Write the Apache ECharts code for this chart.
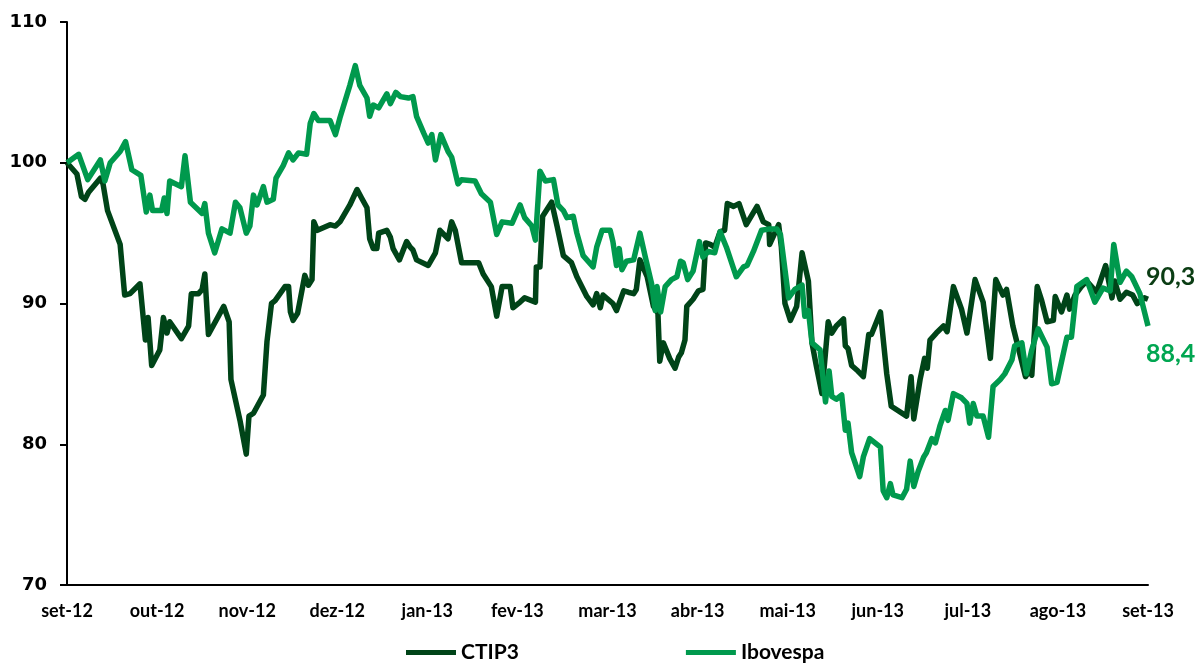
<!DOCTYPE html>
<html style="height: 100%">
<head>
    <meta charset="utf-8">
</head>
<body style="height: 100%; margin: 0; background: #fff">
<div id="container" style="width: 1198px; height: 664px"></div>
<script src="https://cdn.jsdelivr.net/npm/echarts@6/dist/echarts.min.js"></script>
<script type="text/javascript">
    // month tick labels (x = months since set-12)
    var months = ['set-12', 'out-12', 'nov-12', 'dez-12', 'jan-13', 'fev-13', 'mar-13',
                  'abr-13', 'mai-13', 'jun-13', 'jul-13', 'ago-13', 'set-13'];
    var yTicks = [70, 80, 90, 100, 110];

    // base 100: [month, value]
    var ctip3 = [
        [0, 100.0], [0.11, 99.2], [0.16, 97.6], [0.20, 97.4], [0.24, 97.9], [0.37, 98.9], [0.40, 98.5],
        [0.45, 96.6], [0.59, 94.2], [0.64, 90.6], [0.70, 90.7], [0.81, 91.4], [0.87, 87.4], [0.90, 89.0],
        [0.94, 85.6], [1.03, 86.7], [1.07, 89.0], [1.11, 87.9], [1.14, 88.7], [1.27, 87.5], [1.35, 88.4],
        [1.38, 90.7], [1.46, 90.7], [1.50, 91.0], [1.53, 92.1], [1.57, 87.8], [1.74, 89.8], [1.80, 88.7],
        [1.82, 84.6], [1.92, 81.7], [1.99, 79.3], [2.02, 82.0], [2.07, 82.2], [2.18, 83.5], [2.22, 87.3],
        [2.27, 90.0], [2.31, 90.2], [2.42, 91.2], [2.46, 91.2], [2.48, 89.4], [2.51, 88.8], [2.56, 89.3],
        [2.64, 92.0], [2.68, 91.3], [2.72, 91.7], [2.74, 95.8], [2.78, 95.2], [2.92, 95.6], [2.98, 95.5],
        [3.03, 95.8], [3.14, 97.0], [3.22, 98.1], [3.27, 97.5], [3.33, 96.8], [3.36, 94.6], [3.40, 93.9],
        [3.44, 93.9], [3.46, 95.0], [3.55, 95.2], [3.59, 94.7], [3.62, 93.9], [3.69, 93.1], [3.77, 94.4],
        [3.81, 94.0], [3.84, 93.8], [3.88, 93.1], [4.01, 92.7], [4.09, 93.6], [4.14, 95.2], [4.23, 94.6],
        [4.27, 95.8], [4.31, 95.2], [4.38, 92.9], [4.57, 92.9], [4.62, 92.1], [4.71, 91.2], [4.77, 89.1],
        [4.83, 91.2], [4.92, 91.2], [4.95, 89.7], [5.03, 90.1], [5.08, 90.4], [5.20, 90.1], [5.21, 92.6],
        [5.25, 92.6], [5.28, 96.2], [5.38, 97.2], [5.44, 95.5], [5.51, 93.4], [5.60, 92.9], [5.66, 91.9],
        [5.77, 90.5], [5.84, 89.9], [5.88, 90.7], [5.92, 89.7], [5.95, 90.6], [6.06, 90.0], [6.10, 89.5],
        [6.18, 90.9], [6.23, 90.8], [6.29, 90.7], [6.32, 91.0], [6.36, 93.1], [6.44, 91.9], [6.51, 89.8],
        [6.56, 89.3], [6.58, 85.9], [6.62, 87.2], [6.69, 86.1], [6.75, 85.4], [6.79, 86.2], [6.82, 86.5],
        [6.86, 87.4], [6.88, 89.8], [6.95, 90.3], [7.01, 90.9], [7.06, 91.0], [7.09, 94.3], [7.14, 94.2],
        [7.19, 94.0], [7.25, 95.1], [7.30, 95.2], [7.33, 97.1], [7.40, 96.9], [7.46, 97.1], [7.54, 95.6],
        [7.66, 96.9], [7.73, 95.8], [7.79, 95.6], [7.80, 94.2], [7.90, 95.6], [7.93, 94.0], [7.97, 90.0],
        [8.03, 88.8], [8.10, 89.8], [8.16, 93.6], [8.23, 91.6], [8.27, 87.2], [8.32, 85.5], [8.38, 83.6],
        [8.45, 88.7], [8.49, 87.9], [8.54, 88.4], [8.62, 88.9], [8.64, 87.0], [8.67, 86.8], [8.71, 85.6],
        [8.78, 85.2], [8.84, 84.8], [8.90, 87.8], [8.93, 87.8], [9.03, 89.4], [9.10, 85.0], [9.15, 82.7],
        [9.32, 82.0], [9.37, 84.8], [9.40, 81.8], [9.47, 84.6], [9.52, 86.1], [9.55, 85.4], [9.58, 87.4],
        [9.65, 87.9], [9.73, 88.4], [9.77, 88.0], [9.84, 91.2], [9.93, 89.6], [9.99, 87.9], [10.08, 91.7],
        [10.17, 90.1], [10.25, 86.1], [10.31, 91.7], [10.39, 90.6], [10.43, 91.0], [10.50, 88.4], [10.64, 84.8],
        [10.69, 85.3], [10.71, 84.9], [10.77, 91.2], [10.82, 90.2], [10.88, 88.7], [10.95, 88.8], [10.97, 90.5],
        [11.04, 89.4], [11.10, 90.6], [11.13, 89.6], [11.19, 90.6], [11.26, 91.2], [11.32, 91.6], [11.43, 90.8],
        [11.53, 92.7], [11.60, 90.4], [11.63, 91.6], [11.69, 90.3], [11.76, 90.8], [11.83, 90.6], [11.88, 90.0],
        [11.96, 90.4], [12, 90.3]
    ];

    var ibovespa = [
        [0, 100.0], [0.13, 100.6], [0.23, 98.8], [0.37, 100.2], [0.42, 98.7], [0.48, 100.0], [0.59, 100.8],
        [0.65, 101.5], [0.72, 99.5], [0.82, 99.1], [0.88, 96.5], [0.92, 97.7], [0.95, 96.6], [1.05, 96.6],
        [1.08, 97.5], [1.11, 96.4], [1.14, 98.7], [1.27, 98.3], [1.31, 100.5], [1.37, 97.2], [1.50, 96.4],
        [1.53, 97.1], [1.57, 95.0], [1.64, 93.6], [1.72, 95.3], [1.81, 95.0], [1.87, 97.2], [1.92, 96.8],
        [1.99, 95.0], [2.03, 95.5], [2.07, 97.7], [2.11, 97.0], [2.18, 98.3], [2.22, 97.2], [2.29, 97.4],
        [2.32, 98.9], [2.40, 99.8], [2.46, 100.7], [2.51, 100.2], [2.57, 100.7], [2.66, 100.6], [2.70, 102.8],
        [2.74, 103.5], [2.79, 103.0], [2.92, 103.0], [2.98, 102.0], [3.03, 103.2], [3.14, 105.5], [3.20, 106.9],
        [3.25, 105.5], [3.33, 104.6], [3.36, 103.3], [3.40, 104.1], [3.46, 103.9], [3.55, 104.9], [3.59, 104.2],
        [3.65, 105.0], [3.70, 104.7], [3.79, 104.6], [3.84, 104.7], [3.88, 103.3], [3.96, 102.1], [4.01, 101.4],
        [4.05, 102.0], [4.09, 100.2], [4.15, 102.0], [4.23, 100.8], [4.27, 100.4], [4.34, 98.5], [4.38, 98.8],
        [4.53, 98.7], [4.60, 97.8], [4.70, 97.2], [4.77, 94.9], [4.83, 95.8], [4.94, 95.7], [5.03, 97.0],
        [5.08, 96.1], [5.16, 95.5], [5.20, 94.5], [5.25, 99.4], [5.31, 98.7], [5.40, 98.8], [5.45, 97.0],
        [5.51, 96.6], [5.55, 96.1], [5.62, 96.2], [5.66, 95.0], [5.73, 93.4], [5.84, 92.6], [5.88, 94.0],
        [5.94, 95.2], [6.03, 95.2], [6.06, 94.4], [6.10, 92.7], [6.13, 93.9], [6.16, 92.4], [6.21, 93.0],
        [6.29, 93.1], [6.36, 95.0], [6.42, 93.3], [6.49, 91.4], [6.53, 89.5], [6.55, 91.2], [6.59, 89.4],
        [6.64, 91.2], [6.71, 91.7], [6.77, 91.9], [6.81, 93.0], [6.84, 92.9], [6.89, 91.7], [6.95, 92.3],
        [7.02, 94.4], [7.06, 93.3], [7.12, 93.7], [7.19, 93.6], [7.25, 95.1], [7.32, 94.0], [7.43, 91.9],
        [7.51, 92.6], [7.55, 92.7], [7.62, 93.7], [7.71, 95.2], [7.80, 95.3], [7.88, 95.3], [7.92, 94.9],
        [7.97, 92.4], [8.01, 90.4], [8.08, 91.0], [8.16, 91.3], [8.19, 89.1], [8.23, 89.5], [8.27, 87.2],
        [8.36, 86.7], [8.42, 83.0], [8.46, 85.2], [8.49, 83.4], [8.54, 83.2], [8.60, 83.5], [8.64, 81.0],
        [8.67, 81.5], [8.71, 79.4], [8.80, 77.7], [8.84, 79.1], [8.91, 80.4], [9.03, 79.8], [9.06, 76.7],
        [9.10, 76.2], [9.14, 77.2], [9.17, 76.4], [9.27, 76.2], [9.32, 76.8], [9.36, 78.8], [9.40, 77.0],
        [9.45, 78.1], [9.51, 79.1], [9.54, 79.4], [9.60, 80.4], [9.64, 80.1], [9.69, 81.3], [9.75, 82.4],
        [9.78, 81.7], [9.84, 83.6], [9.93, 83.3], [9.99, 82.9], [10.02, 81.5], [10.06, 82.9], [10.10, 82.0],
        [10.17, 82.0], [10.23, 80.5], [10.28, 84.1], [10.36, 84.6], [10.41, 85.0], [10.49, 86.0], [10.52, 87.0],
        [10.60, 87.2], [10.65, 85.0], [10.71, 86.7], [10.78, 88.2], [10.88, 86.9], [10.93, 84.3], [10.99, 84.4],
        [11.10, 87.6], [11.15, 87.6], [11.21, 91.2], [11.32, 91.7], [11.41, 90.1], [11.50, 91.1], [11.58, 90.9],
        [11.62, 94.2], [11.69, 91.5], [11.76, 92.3], [11.82, 91.9], [11.91, 90.7], [12, 88.4]
    ];

    var darkGreen = '#004418';
    var lightGreen = '#00994d';

    var dom = document.getElementById("container");
    var myChart = echarts.init(dom, null, {renderer: 'canvas'});

    function lineSeries(name, data, color, labelColor, offset) {
        return {
            name: name,
            type: 'line',
            data: data,
            showSymbol: false,
            symbol: 'none',
            lineStyle: {width: 5.5, color: color, join: 'round'},
            itemStyle: {color: color},
            animation: false,
            endLabel: {
                show: true,
                formatter: function (p) {
                    return p.value[1].toFixed(1).replace('.', ',');
                },
                color: labelColor,
                fontFamily: 'Lato',
                fontWeight: 'bold',
                fontSize: 25,
                offset: offset
            }
        };
    }

    var option = {
        animation: false,
        grid: {left: 67, right: 50, top: 22, bottom: 79, containLabel: false},
        legend: {
            top: 637,
            left: 401,
            icon: 'rect',
            itemWidth: 50,
            itemHeight: 5,
            itemGap: 167,
            textStyle: {fontFamily: 'Lato', fontWeight: 'bold', fontSize: 21, color: '#000'},
            data: ['CTIP3', 'Ibovespa']
        },
        xAxis: {
            type: 'value',
            min: 0,
            max: 12,
            interval: 1,
            splitLine: {show: false},
            axisTick: {show: false},
            axisLine: {lineStyle: {color: '#000', width: 2}},
            axisLabel: {
                margin: 17,
                color: '#000',
                fontFamily: 'Lato',
                fontWeight: 'bold',
                fontSize: 18,
                formatter: function (v) { return months[v]; }
            }
        },
        yAxis: {
            type: 'value',
            min: yTicks[0],
            max: yTicks[yTicks.length - 1],
            interval: 10,
            splitLine: {show: false},
            axisLine: {show: true, lineStyle: {color: '#000', width: 2}},
            axisTick: {show: true, length: 7, lineStyle: {color: '#000', width: 2}},
            axisLabel: {
                margin: 20,
                color: '#000',
                fontFamily: 'DejaVu Sans',
                fontWeight: 'bold',
                fontSize: 18
            }
        },
        series: [
            lineSeries('CTIP3', ctip3, darkGreen, '#0b3d14', [-10, -22]),
            lineSeries('Ibovespa', ibovespa, lightGreen, '#00a651', [-10, 28])
        ]
    };

    myChart.setOption(option);
</script>
</body>
</html>
